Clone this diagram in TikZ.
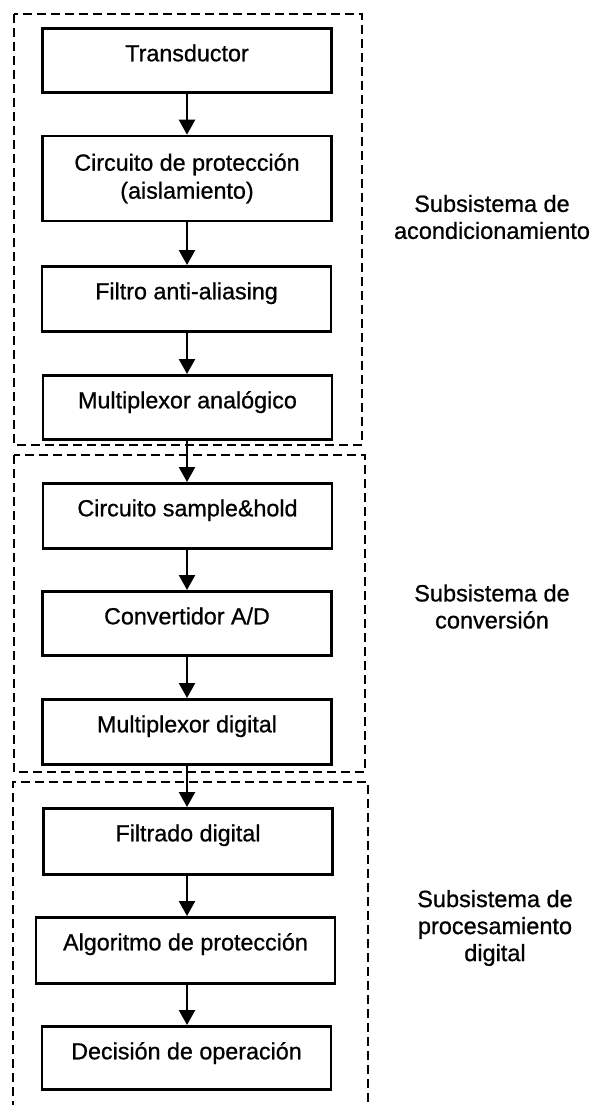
\documentclass[tikz,border=0pt]{standalone}
\usepackage{fontspec}
\setmainfont{Liberation Sans}
\newfontfamily\scanfont[FakeBold=0.8]{Liberation Sans}
\usetikzlibrary{arrows.meta}
\begin{document}
\begin{tikzpicture}[x=1pt,y=-1pt,
  box/.style={draw,line width=2.6pt,rectangle,inner sep=0pt,minimum width=289pt,
    font=\scanfont\fontsize{23.3}{28}\selectfont,align=center},
  onebox/.style={box,text height=33pt,text depth=#1},
  conn/.style={line width=2.4pt,-{Triangle[length=15pt,width=16pt]}},
  group/.style={line width=2.2pt,dash pattern=on 9pt off 5pt},
  sublabel/.style={font=\scanfont\fontsize{23.5}{27}\selectfont,align=center,inner sep=0pt}]
\useasboundingbox (0,0) rectangle (595,1105);
% dashed groups
\draw[group] (14,14) rectangle (362,445);
\draw[group] (14,455) rectangle (365,772);
\draw[group] (13,1110) -- (13,782) -- (368,782) -- (368,1110);
% boxes
\node[onebox=31pt] (trans) at (187,27) [anchor=north] {Transductor};
\node[box,minimum height=85pt] (circ) at (187,178.5) {Circuito de protección\\(aislamiento)};
\node[onebox=32pt] (filtro) at (186.5,265) [anchor=north] {Filtro anti-aliasing};
\node[onebox=31pt] (muxa) at (187.5,374) [anchor=north] {Multiplexor analógico};
\node[onebox=32pt] (sh) at (187.5,482) [anchor=north] {Circuito sample\&hold};
\node[onebox=31pt] (ad) at (187,590) [anchor=north] {Convertidor A/D};
\node[onebox=32pt] (muxd) at (187,698) [anchor=north] {Multiplexor digital};
\node[onebox=33pt] (filtd) at (188,807) [anchor=north] {Filtrado digital};
\node[onebox=33pt,minimum width=299pt] (alg) at (185.5,916) [anchor=north] {Algoritmo de protección};
\node[onebox=30pt] (dec) at (186.5,1025) [anchor=north] {Decisión de operación};
% connectors
\foreach \a/\b in {trans/circ,circ/filtro,filtro/muxa,muxa/sh,sh/ad,ad/muxd,muxd/filtd,filtd/alg,alg/dec}
  \draw[conn] (\a.south -| 187,0) -- (\b.north -| 187,0);
% subsystem labels
\node[sublabel] (l1) at (492,217) {Subsistema de\\acondicionamiento};
\node[sublabel] (l2) at (492,606.5) {Subsistema de\\conversión};
\node[sublabel] (l3) at (495,928) {Subsistema de\\procesamiento\\digital};
\end{tikzpicture}
\end{document}
